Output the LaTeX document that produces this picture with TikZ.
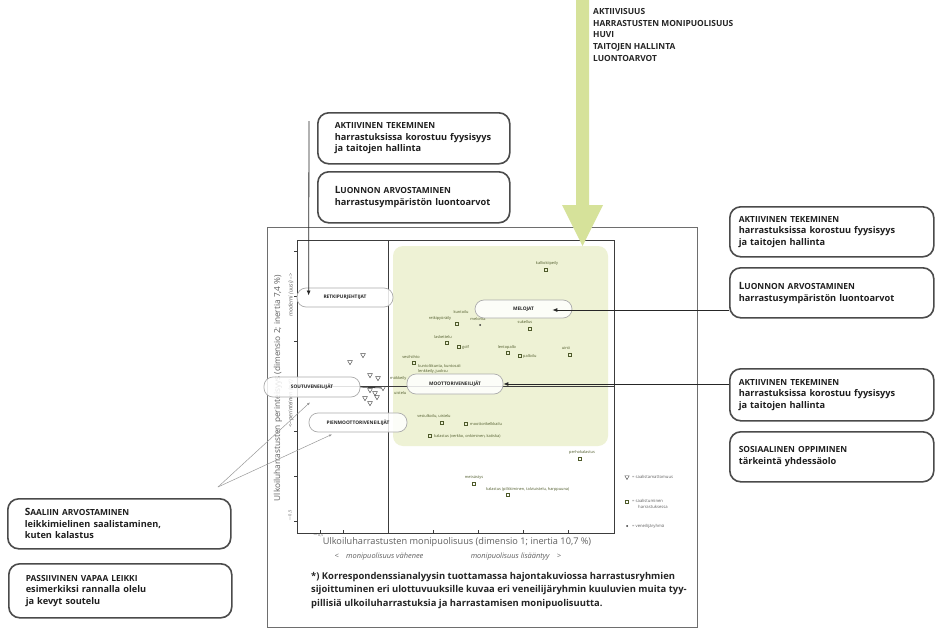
\documentclass[tikz,border=0pt]{standalone}
\usepackage{fontspec}
\setmainfont{Open Sans}
\usetikzlibrary{calc,arrows.meta,shapes.geometric}

\definecolor{framegray}{RGB}{110,110,110}
\definecolor{boxline}{RGB}{75,75,75}
\definecolor{zone}{RGB}{238,242,213}
\definecolor{arrowgreen}{RGB}{214,226,154}
\definecolor{ptext}{RGB}{78,90,42}
\definecolor{axisgray}{RGB}{60,60,60}
\definecolor{axtext}{RGB}{95,95,95}

\newcommand{\hd}[1]{{\fontsize{8.4}{9}\selectfont\bfseries #1}}
\newcommand{\hdbig}[2]{{\fontsize{10}{9}\selectfont\bfseries #1}{\fontsize{8.4}{9}\selectfont\bfseries #2}}

\tikzset{
  infobox/.style={draw=boxline, line width=1.6pt, rounded corners=11pt, fill=white,
    anchor=north west, align=left, text width=#1, inner ysep=2pt,
    font=\fontsize{9.2}{11.6}\selectfont\bfseries, text=black!88},
  leftpad/.style={inner xsep=17pt},
  rightpad/.style={inner xsep=9pt},
  pill/.style={draw=gray!65, line width=0.7pt, rounded corners=9pt, fill=white,
    fill opacity=0.85, text opacity=1, minimum width=#1, minimum height=19pt,
    inner sep=1pt, font=\fontsize{4.8}{5}\selectfont\bfseries, text=black!85},
  ptlab/.style={font=\fontsize{3.9}{4.4}\selectfont, text=ptext, inner sep=0pt},
  sqm/.style={draw=ptext, line width=0.45pt, rectangle, minimum size=3pt, inner sep=0pt},
  trim/.style={draw=black!70, line width=0.45pt, regular polygon, regular polygon sides=3,
    shape border rotate=180, minimum size=5.5pt, inner sep=0pt},
  dotm/.style={fill=black!80, circle, minimum size=2pt, inner sep=0pt},
  arr/.style={-{Latex[length=5pt,width=4pt]}, line width=0.9pt, draw=black!85},
  thinarr/.style={-{Latex[length=3pt,width=2.5pt]}, line width=0.5pt, draw=gray!80},
  axlab/.style={font=\fontsize{9.2}{10}\selectfont, text=axtext, inner sep=0pt},
  axsub/.style={font=\fontsize{7.4}{8}\selectfont\itshape, text=axtext, inner sep=0pt},
}

\begin{document}
\begin{tikzpicture}[x=1pt,y=-1pt]
\useasboundingbox (0,0) rectangle (935,629);
\fill[white] (0,0) rectangle (935,629);

% figure frame
\draw[framegray, line width=0.7pt] (267,227) rectangle (697,627);

% shaded region of the diverse, active groups
\fill[zone, rounded corners=10pt] (393,246) rectangle (608,446);

% plot box, zero lines and ticks
\draw[axisgray, line width=0.8pt] (297,240) rectangle (614,533);
\draw[axisgray, line width=0.8pt] (388,240) -- (388,533);
\draw[axisgray, line width=0.6pt] (297,386) -- (614,386);
\foreach \x in {320,343,433,478,523,568}
  \draw[axisgray, line width=0.5pt] (\x,533) -- (\x,529.5);
\foreach \y in {251,296,341,431,476,521}
  \draw[axisgray, line width=0.5pt] (297,\y) -- (293.5,\y);
\node[font=\fontsize{3.6}{4}\selectfont, text=axtext, inner sep=0pt] (xtick) at (318,535.4) {$-$0,5};
\node[font=\fontsize{4}{4}\selectfont, text=axtext, inner sep=0pt, rotate=90] (ytick) at (290,516) {$-$0,5};

% axis titles
\node[axlab] (xtitle) at (457,542.5) {Ulkoiluharrastusten monipuolisuus (dimensio 1; inertia 10,7 \%)};
\node[axsub] (xsubl) at (379,557) {<\quad monipuolisuus vähenee};
\node[axsub] (xsubr) at (516,557) {monipuolisuus lisääntyy\quad >};
\node[axlab, font=\fontsize{8.3}{9}\selectfont, rotate=90] (ytitle) at (278,388) {Ulkoiluharrastusten perinteisyys (dimensio 2; inertia 7,4 \%)};
\node[axsub, font=\fontsize{5.6}{6}\selectfont\itshape, rotate=90] (ysubu) at (291,295) {moderni (uusi) –>};
\node[axsub, font=\fontsize{5.6}{6}\selectfont\itshape, rotate=90] (ysubl) at (291,404) {<– perinteinen (nyt)};

% activity labels and markers
\node[ptlab] (l1) at (547,263) {kalliokiipeily};
\node[sqm] (m1) at (546,270) {};
\node[ptlab] (l2) at (461,312) {kuntoilu};
\node[ptlab] (l3) at (440,318) {retkipyöräily};
\node[sqm] (m3) at (457,324) {};
\node[ptlab] (l4) at (478,319) {melonta};
\node[dotm] (m4) at (480,325) {};
\node[ptlab] (l5) at (525,322) {sukellus};
\node[sqm] (m5) at (530,329) {};
\node[ptlab] (l6) at (443,337) {laskettelu};
\node[sqm] (m6) at (447,343) {};
\node[sqm] (m7) at (459,347) {};
\node[ptlab, anchor=west] (l7) at (462,347) {golf};
\node[ptlab] (l8) at (507,347) {lentopallo};
\node[sqm] (m8) at (508,353) {};
\node[sqm] (m9) at (520,356) {};
\node[ptlab, anchor=west] (l9) at (523,356) {palloilu};
\node[ptlab] (l10) at (566,348) {uinti};
\node[sqm] (m10) at (570,355) {};
\node[ptlab] (l11) at (411,357) {vesihiihto};
\node[sqm] (m11) at (414,363) {};
\node[ptlab, anchor=west] (l12) at (418,366) {kuntoliikunta, kuntosali};
\node[ptlab, anchor=west] (l13) at (418,371) {lenkkeily, juoksu};
\node[ptlab, anchor=west] (l14) at (390,378) {mökkeily};
\node[ptlab, anchor=west] (l15) at (394,393) {uistelu};
\node[ptlab] (l16) at (434,416) {vesiulkoilu, uistelu};
\node[sqm] (m16) at (442,423) {};
\node[sqm] (m17) at (466,424) {};
\node[ptlab, anchor=west] (l17) at (470,424) {moottorikelkkailu};
\node[sqm] (m18) at (430,436) {};
\node[ptlab, anchor=west] (l18) at (434,436) {kalastus (verkko, onkiminen, katiska)};
\node[ptlab] (l19) at (582,452) {perhokalastus};
\node[sqm] (m19) at (580,459) {};
\node[ptlab] (l20) at (474,478) {metsästys};
\node[sqm] (m20) at (474,484) {};
\node[ptlab, anchor=west] (l21) at (486,489) {kalastus (pilkkiminen, talviuistelu, harppuuna)};
\node[sqm] (m21) at (508,495) {};

% non-catching activities near the origin
\foreach \x/\y [count=\i] in {350/362, 363/355, 370/375, 378/378, 370/390,
    375/393, 365/398, 370/403, 377/397, 383/388}
  \node[trim] (tri\i) at (\x,\y) {};

% legend
\node[trim, minimum size=5pt] (legtri) at (627,477) {};
\node[font=\fontsize{4.2}{5}\selectfont, text=axtext, anchor=west, inner sep=0pt] (legt1) at (632,477) {= saalistamattomuus};
\node[sqm] (legsq) at (627,502) {};
\node[font=\fontsize{4.2}{5.2}\selectfont, text=axtext, anchor=north west, align=left, inner sep=0pt] (legt2) at (632,499.5) {= saalistuminen\\\hspace*{6pt}harrastuksessa};
\node[dotm] (legdot) at (627,526) {};
\node[font=\fontsize{4.2}{5}\selectfont, text=axtext, anchor=west, inner sep=0pt] (legt3) at (632,526) {= veneilijäryhmä};

% boater groups
\node[pill=96pt] (p1) at (345,297.5) {RETKIPURJEHTIJAT};
\node[pill=96pt, minimum height=20pt] (p2) at (312,387) {SOUTUVENEILIJÄT};
\node[pill=98pt] (p3) at (358,422.5) {PIENMOOTTORIVENEILIJÄT};
\node[pill=96pt, minimum height=20pt] (p4) at (455,384) {MOOTTORIVENEILIJÄT};
\node[pill=97pt, minimum height=18pt] (p5) at (523.5,309) {MELOJAT};

% big arrow of the diverse dimension
\fill[arrowgreen] (576,0) -- (589,0) -- (589,205) -- (603,205) -- (582.5,246)
  -- (562,205) -- (576,205) -- cycle;
\node[anchor=north west, align=left, inner sep=0pt, text=black!85,
  font=\fontsize{8.4}{11.8}\selectfont\bfseries] (topics) at (593,8)
  {AKTIIVISUUS\\HARRASTUSTEN MONIPUOLISUUS\\HUVI\\TAITOJEN HALLINTA\\LUONTOARVOT};

% explanation boxes, left top
\node[infobox=158pt, leftpad, minimum height=51pt] (la) at (317,112)
  {\hd{AKTIIVINEN TEKEMINEN}\\harrastuksissa korostuu fyysisyys\\ja taitojen hallinta};
\node[infobox=158pt, leftpad, minimum height=51pt] (ll) at (317,171)
  {\hdbig{L}{UONNON ARVOSTAMINEN}\\harrastusympäristön luontoarvot};

% explanation boxes, right
\node[infobox=186pt, rightpad, minimum height=50pt] (ra) at (729,206)
  {\hd{AKTIIVINEN TEKEMINEN}\\harrastuksissa korostuu fyysisyys\\ja taitojen hallinta};
\node[infobox=186pt, rightpad, minimum height=50pt] (rl) at (729,267)
  {\hdbig{L}{UONNON ARVOSTAMINEN}\\harrastusympäristön luontoarvot};
\node[infobox=186pt, rightpad, minimum height=52pt] (ra2) at (729,368)
  {\hd{AKTIIVINEN TEKEMINEN}\\harrastuksissa korostuu fyysisyys\\ja taitojen hallinta};
\node[infobox=186pt, rightpad, minimum height=50pt] (rs) at (729,431)
  {\hd{SOSIAALINEN OPPIMINEN}\\tärkeintä yhdessäolo};

% explanation boxes, left bottom
\node[infobox=189pt, leftpad, minimum height=50pt] (ls) at (7,498)
  {\hdbig{S}{AALIIN ARVOSTAMINEN}\\leikkimielinen saalistaminen,\\kuten kalastus};
\node[infobox=189pt, leftpad, minimum height=54pt] (lp) at (8,563)
  {\hd{PASSIIVINEN VAPAA LEIKKI}\\esimerkiksi rannalla olelu\\ja kevyt soutelu};

% connectors
\coordinate (vtop) at (309,121);
\draw[arr, line width=0.8pt] (vtop) -- ($(p1.west)+(12,-2)$);
\coordinate (rtop) at (729,310);
\draw[arr, line width=0.8pt] (rtop) -- ($(p5.east)+(-20,1)$);
\coordinate (rmid) at (729,384);
\draw[arr, line width=0.8pt] (rmid) -- (p4.east);
\draw[axisgray, line width=0.8pt] (p2.east) -- (tri10);
\coordinate (lfork) at (218,487);
\draw[thinarr] (lfork) -- ($(p2.south)+(-2,5)$);
\draw[thinarr] (lfork) -- ($(p3.south)+(-26,2)$);

% footnote
\node[anchor=north west, align=left, inner sep=0pt, text=black!85,
  font=\fontsize{9.4}{13.4}\selectfont\bfseries] (note) at (311,572)
  {*) Korrespondenssianalyysin tuottamassa hajontakuviossa harrastusryhmien\\
   sijoittuminen eri ulottuvuuksille kuvaa eri veneilijäryhmin kuuluvien muita tyy-\\
   pillisiä ulkoiluharrastuksia ja harrastamisen monipuolisuutta.};
\end{tikzpicture}
\end{document}
